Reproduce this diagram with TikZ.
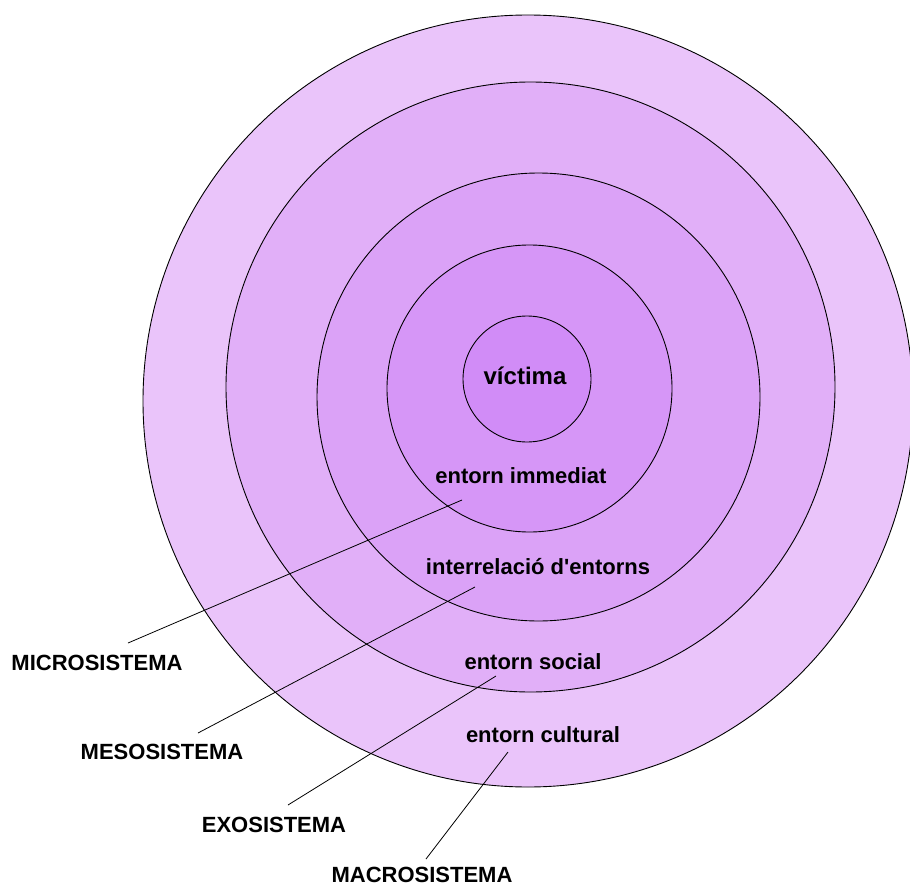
\documentclass[tikz,border=0pt]{standalone}
\usepackage{fontspec}
\setmainfont{Liberation Sans}
\definecolor{ringA}{HTML}{EAC4FA}
\definecolor{ringB}{HTML}{E1AFF8}
\definecolor{ringC}{HTML}{DBA2F7}
\definecolor{ringD}{HTML}{D696F7}
\definecolor{ringE}{HTML}{D18CF7}
\tikzset{
  ring/.style={draw=black, line width=0.9pt},
  lbl/.style={font=\fontsize{22}{26}\selectfont\bfseries, inner sep=0pt},
  lead/.style={draw=black, line width=0.8pt}
}
\begin{document}
\begin{tikzpicture}[x=1pt,y=-1pt]
\useasboundingbox (0,0) rectangle (910,888);
\begin{scope}
\clip (0,0) rectangle (910,888);
\path[ring, fill=ringA] (528,401) ellipse [x radius=385, y radius=386];
\end{scope}
\path[ring, fill=ringB] (530.5,387) ellipse [x radius=304.5, y radius=305];
\path[ring, fill=ringC] (538.5,397) ellipse [x radius=221.5, y radius=224];
\path[ring, fill=ringD] (529.5,388.5) ellipse [x radius=142.5, y radius=143.5];
\path[ring, fill=ringE] (527,379) ellipse [x radius=64, y radius=63];

\node[lbl, font=\fontsize{24}{28}\selectfont\bfseries] (vic) at (525,376) {víctima};
\node[lbl] (imm) at (521,476) {entorn immediat};
\node[lbl] (inter) at (538,567) {interrelació d\textquotesingle entorns};
\node[lbl] (soc) at (533,662) {entorn social};
\node[lbl] (cult) at (543,735) {entorn cultural};

\node[lbl] (micro) at (97,663) {MICROSISTEMA};
\node[lbl] (meso) at (162,752) {MESOSISTEMA};
\node[lbl] (exo) at (274,825) {EXOSISTEMA};
\node[lbl] (macro) at (422,875) {MACROSISTEMA};

\coordinate (m1) at (128,643);
\coordinate (m2) at (462,500);
\coordinate (s1) at (198,733);
\coordinate (s2) at (475,587);
\coordinate (e1) at (288,805);
\coordinate (e2) at (496,676);
\coordinate (c1) at (426,859);
\coordinate (c2) at (508,752);
\draw[lead] (m1) -- (m2);
\draw[lead] (s1) -- (s2);
\draw[lead] (e1) -- (e2);
\draw[lead] (c1) -- (c2);
\end{tikzpicture}
\end{document}
